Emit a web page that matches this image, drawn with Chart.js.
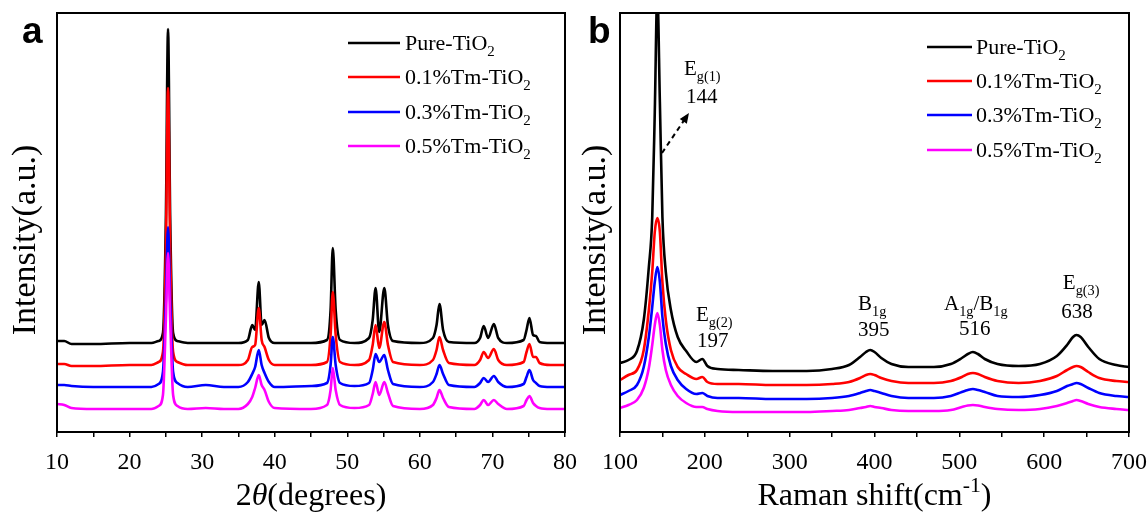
<!DOCTYPE html>
<html>
<head>
<meta charset="utf-8">
<script src="https://cdn.jsdelivr.net/npm/chart.js@4.4.1/dist/chart.umd.min.js"></script>
<style>
  html, body { margin: 0; padding: 0; background: #fff; }
  #wrap { position: relative; width: 1148px; height: 513px; }
  canvas { position: absolute; top: 0; }
  #xrd { left: 0; }
  #raman { left: 580px; }
</style>
</head>
<body>
<div id="wrap">
  <canvas id="xrd" width="580" height="513"></canvas>
  <canvas id="raman" width="568" height="513"></canvas>
</div>
<script>
// ---- data (intensity in arbitrary units, traces already offset) ----
const seriesLabels = ["Pure-TiO_{2}", "0.1%Tm-TiO_{2}", "0.3%Tm-TiO_{2}", "0.5%Tm-TiO_{2}"];
const seriesColors = ["#000000", "#ff0000", "#0000ff", "#ff00ff"];

// (a) XRD, 2theta in degrees
const xrdTicks = [10, 20, 30, 40, 50, 60, 70, 80];
const xrdTheta = [10, 11, 12, 15, 20, 23, 24, 24.6, 25.0, 25.3, 25.6, 26.0, 26.6, 28, 30.5, 33, 35, 36.3, 36.9, 37.3,
  37.8, 38.2, 38.6, 39.2, 40, 45, 47.2, 47.7, 48.0, 48.4, 49, 51, 53.0, 53.5, 53.9, 54.4, 55.1, 55.6, 56.3, 60,
  61.8, 62.3, 62.7, 63.2, 64, 67.5, 68.3, 68.8, 69.4, 70.2, 70.8, 72, 74.3, 74.7, 75.1, 75.6, 76.0, 76.5, 78, 80];
const xrdPure = [91, 91, 88, 88, 89, 89, 91, 99, 212, 403, 212, 99, 91, 89, 89, 89, 89, 92, 107, 102,
  150, 107, 112, 94, 89, 89, 92, 122, 184, 122, 92, 89, 94, 112, 144, 100, 144, 107, 91, 89,
  94, 107, 128, 102, 90, 89, 94, 106, 94, 108, 94, 89, 92, 102, 114, 97, 96, 90, 89, 89];
const xrdTm01 = [68, 68, 66, 66, 67, 67, 70, 80, 182, 344, 182, 80, 70, 67, 67, 67, 67, 72, 85, 87,
  124, 92, 85, 72, 67, 67, 70, 97, 140, 97, 70, 67, 72, 87, 107, 84, 110, 87, 70, 67,
  72, 82, 95, 82, 69, 67, 72, 80, 74, 83, 72, 67, 70, 80, 88, 75, 75, 69, 67, 67];
const xrdTm03 = [47, 47, 46, 45, 45, 45, 48, 60, 132, 205, 132, 60, 49, 45, 47, 45, 45, 50, 58, 65,
  82, 67, 59, 50, 45, 46, 49, 67, 95, 67, 49, 46, 49, 62, 78, 70, 77, 62, 48, 45,
  50, 58, 67, 58, 47, 45, 49, 54, 50, 56, 50, 45, 48, 55, 62, 52, 49, 46, 45, 45];
const xrdTm05 = [28, 27, 24, 23, 23, 23, 26, 37, 112, 179, 112, 37, 26, 23, 24, 23, 23, 28, 35, 44,
  57, 47, 42, 30, 24, 23, 27, 42, 64, 42, 27, 24, 27, 38, 50, 37, 50, 39, 26, 23,
  27, 34, 42, 34, 25, 23, 27, 32, 27, 32, 28, 23, 26, 32, 36, 29, 26, 24, 23, 23];

// (b) Raman, shift in cm-1
const ramanTicks = [100, 200, 300, 400, 500, 600, 700];
const ramanShift = [100, 110, 120, 128, 134, 138, 141, 144, 147, 150, 154, 160, 168, 178, 190, 197, 203, 215, 240, 280,
  320, 350, 370, 383, 390, 395, 400, 408, 420, 440, 470, 490, 503, 510, 516, 522, 530, 545, 570, 595,
  615, 627, 634, 638, 643, 652, 665, 685, 700];
const ramanPure = [69, 72, 81, 112, 165, 215, 320, 440, 330, 215, 160, 122, 95, 81, 70, 73, 66, 63, 62, 61,
  61, 63, 67, 75, 80, 82, 80, 74, 68, 65, 65, 68, 74, 78, 80, 78, 73, 68, 66, 68,
  76, 87, 95, 97, 95, 85, 73, 67, 65];
const ramanTm01 = [52, 57, 62, 82, 122, 160, 200, 214, 200, 150, 112, 82, 65, 58, 53, 55, 50, 48, 48, 47,
  47, 48, 50, 54, 57, 58, 57, 54, 51, 49, 49, 51, 55, 58, 59, 58, 55, 51, 49, 51,
  56, 62, 65, 66, 65, 60, 54, 51, 50];
const ramanTm03 = [37, 41, 47, 65, 95, 125, 150, 165, 150, 115, 88, 66, 52, 43, 38, 39, 36, 34, 34, 33,
  33, 34, 36, 39, 41, 42, 41, 39, 36, 34, 34, 36, 40, 42, 43, 42, 40, 36, 35, 37,
  41, 46, 48, 49, 48, 44, 39, 36, 35];
const ramanTm05 = [24, 27, 32, 44, 64, 87, 107, 119, 107, 82, 62, 47, 36, 29, 25, 25, 23, 21, 20, 20,
  20, 21, 22, 24, 25, 26, 25, 24, 22, 21, 21, 22, 25, 26.5, 27, 26.5, 25, 23, 22, 23,
  26, 29, 31, 32, 31, 28, 25, 23, 22];
const ramanModes = ["E_{g(1)}", "E_{g(2)}", "B_{1g}", "A_{1g}/B_{1g}", "E_{g(3)}"];
const ramanModeShifts = ["144", "197", "395", "516", "638"];

// ---- drawing helpers ----
const SERIF = "'Times New Roman', 'Liberation Serif', 'DejaVu Serif', serif";

// tiny markup: _{sub} ^{sup} *italic*
function parseRich(str, size) {
  const parts = [];
  const re = /_\{([^}]*)\}|\^\{([^}]*)\}|\*([^*]*)\*|([^_^*]+)/g;
  let m;
  while ((m = re.exec(str))) {
    if (m[1] !== undefined) parts.push({ text: m[1], size: size * 0.68, dy: size * 0.28 });
    else if (m[2] !== undefined) parts.push({ text: m[2], size: size * 0.68, dy: -size * 0.42 });
    else if (m[3] !== undefined) parts.push({ text: m[3], size: size, dy: 0, italic: true });
    else parts.push({ text: m[4], size: size, dy: 0 });
  }
  return parts;
}

function drawRich(ctx, str, x, y, size, align) {
  const parts = parseRich(str, size);
  const fontOf = p => (p.italic ? "italic " : "") + p.size + "px " + SERIF;
  let w = 0;
  parts.forEach(p => {
    ctx.font = fontOf(p);
    p.w = ctx.measureText(p.text).width;
    w += p.w;
  });
  let cx = align === "center" ? x - w / 2 : x;
  ctx.textAlign = "left";
  parts.forEach(p => {
    ctx.font = fontOf(p);
    ctx.fillText(p.text, cx, y + p.dy);
    cx += p.w;
  });
}

// where the Raman labels sit (data units)
const ramanLabelSpots = [
  { x: 175.4, modeY: 357, numX: 177.8, numY: 329 },
  { x: 189.6, modeY: 111, numX: 190.8, numY: 85 },
  { x: 380.6, modeY: 122, numX: 380.6, numY: 96 },
  { x: 482, modeY: 122, numX: 499.6, numY: 97 },
  { x: 622, modeY: 143, numX: 620, numY: 114 }
];

function annotateRaman(ctx, s) {
  const X = v => s.x.getPixelForValue(v);
  const Y = v => s.y.getPixelForValue(v);
  ctx.fillStyle = "#000";
  ramanModes.forEach((mode, i) => {
    const p = ramanLabelSpots[i];
    drawRich(ctx, mode, X(p.x), Y(p.modeY), 21, "left");
    drawRich(ctx, ramanModeShifts[i], X(p.numX), Y(p.numY), 21, "left");
  });
  // dashed arrow pointing from the 144 peak to its label
  const x0 = X(149.5), y0 = Y(279), x1 = X(181.3), y1 = Y(319);
  const ang = Math.atan2(y1 - y0, x1 - x0);
  ctx.strokeStyle = "#000";
  ctx.lineWidth = 2;
  ctx.setLineDash([5, 4]);
  ctx.beginPath();
  ctx.moveTo(x0, y0);
  ctx.lineTo(x1 - 6 * Math.cos(ang), y1 - 6 * Math.sin(ang));
  ctx.stroke();
  ctx.setLineDash([]);
  ctx.beginPath();
  ctx.moveTo(x1, y1);
  ctx.lineTo(x1 - 11 * Math.cos(ang - 0.4), y1 - 11 * Math.sin(ang - 0.4));
  ctx.lineTo(x1 - 11 * Math.cos(ang + 0.4), y1 - 11 * Math.sin(ang + 0.4));
  ctx.closePath();
  ctx.fill();
}

const decorPlugin = {
  id: "decor",
  afterDatasetsDraw(chart, args, opts) {
    const { ctx, chartArea: a, scales } = chart;
    ctx.save();
    ctx.strokeStyle = "#000";
    ctx.lineWidth = 2;
    ctx.strokeRect(a.left, a.top, a.right - a.left, a.bottom - a.top);

    ctx.fillStyle = "#000";
    ctx.textBaseline = "alphabetic";
    ctx.textAlign = "left";
    ctx.font = "bold 37px 'Liberation Sans', Arial, sans-serif";
    ctx.fillText(opts.letter, opts.letterX, 43);

    drawRich(ctx, opts.xTitle, (a.left + a.right) / 2, 505, 32, "center");

    ctx.save();
    ctx.translate(opts.yTitleX, 240);
    ctx.rotate(-Math.PI / 2);
    ctx.textBaseline = "middle";
    drawRich(ctx, "Intensity(a.u.)", 0, 0, 34, "center");
    ctx.restore();

    const lg = opts.legend;
    seriesLabels.forEach((label, i) => {
      const y = lg.rows[i];
      ctx.strokeStyle = seriesColors[i];
      ctx.lineWidth = 2.5;
      ctx.beginPath();
      ctx.moveTo(lg.x0, y);
      ctx.lineTo(lg.x1, y);
      ctx.stroke();
      ctx.fillStyle = "#000";
      drawRich(ctx, label, lg.textX, y + 7, 22, "left");
    });

    if (opts.annotate) opts.annotate(ctx, scales);
    ctx.restore();
  }
};

function makeChart(id, xs, ys, xMin, xMax, step, labelTicks, yAxisWidth, padRight, decor) {
  return new Chart(document.getElementById(id), {
    type: "line",
    data: {
      datasets: ys.map((arr, i) => ({
        label: seriesLabels[i],
        data: xs.map((x, j) => ({ x: x, y: arr[j] })),
        borderColor: seriesColors[i],
        backgroundColor: seriesColors[i],
        borderWidth: 2.6,
        pointRadius: 0,
        cubicInterpolationMode: "monotone",
        order: ys.length - i
      }))
    },
    options: {
      responsive: false,
      animation: false,
      devicePixelRatio: 1,
      layout: { padding: { top: 13, right: padRight, left: 0, bottom: 0 } },
      plugins: {
        legend: { display: false },
        tooltip: { enabled: false },
        decor: decor
      },
      scales: {
        x: {
          type: "linear",
          min: xMin,
          max: xMax,
          afterFit: s => {
            s.height = 81;
            // let the end labels spill into the outer margin instead of shrinking the plot
            s.paddingLeft = 0;
            s.paddingRight = 0;
          },
          border: { display: false },
          grid: { display: true, drawOnChartArea: false, drawTicks: true, tickLength: 5, color: "#000", lineWidth: 1.5 },
          ticks: {
            stepSize: step,
            autoSkip: false,
            maxRotation: 0,
            padding: 11,
            color: "#000",
            font: { family: SERIF, size: 24 },
            callback: v => (labelTicks.includes(v) ? String(v) : "")
          }
        },
        y: {
          min: 0,
          max: 419,
          afterFit: s => { s.width = yAxisWidth; },
          border: { display: false },
          grid: { display: false },
          ticks: { display: false }
        }
      }
    },
    plugins: [decorPlugin]
  });
}

makeChart("xrd", xrdTheta, [xrdPure, xrdTm01, xrdTm03, xrdTm05], 10, 80, 5, xrdTicks, 57, 15, {
  letter: "a",
  letterX: 22,
  xTitle: "2*θ*(degrees)",
  yTitleX: 26,
  legend: { x0: 348, x1: 400, textX: 405, rows: [43, 77, 112, 146] }
});

makeChart("raman", ramanShift, [ramanPure, ramanTm01, ramanTm03, ramanTm05], 100, 700, 50, ramanTicks, 40, 19, {
  letter: "b",
  letterX: 8,
  xTitle: "Raman shift(cm^{-1})",
  yTitleX: 16,
  legend: { x0: 347, x1: 392, textX: 396, rows: [47, 81, 115, 150] },
  annotate: annotateRaman
});
</script>
</body>
</html>
